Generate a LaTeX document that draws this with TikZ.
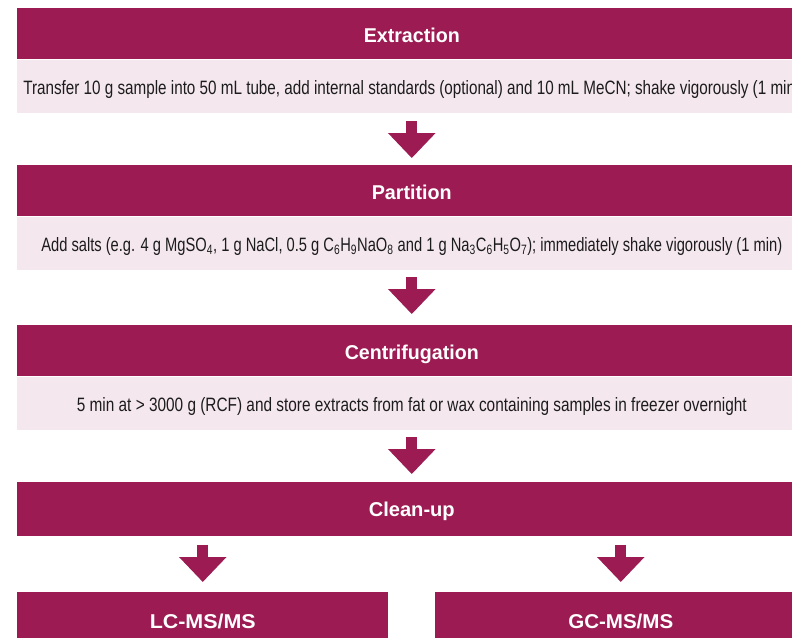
\documentclass[tikz,border=0pt]{standalone}
\usepackage{fontspec}
\setmainfont{Liberation Sans}
\usepackage{graphicx}
\usetikzlibrary{arrows.meta,calc}
\definecolor{berry}{RGB}{155,27,82}
\definecolor{blush}{RGB}{244,231,238}
\definecolor{ink}{RGB}{28,28,28}
\newlength\natw
\newcommand\fitx[2]{\settowidth\natw{#2}\edef\fitfac{\fpeval{(#1)/(\the\natw)}}\scalebox{\fitfac}[1]{#2}}
\tikzset{
  headbox/.style={fill=berry, text=white, inner sep=0pt, anchor=north west,
    minimum width=591.75pt, text height=25.9pt, text depth=12.35pt,
    font=\fontsize{15}{18}\selectfont\bfseries},
  halfbox/.style={headbox, minimum width=278.25pt},
  bandbox/.style={fill=blush, text=ink, inner sep=0pt, anchor=north west,
    minimum width=591.75pt, text height=25.9pt, text depth=13.85pt,
    font=\fontsize{14.5}{17}\selectfont},
  blockarrow/.style={draw=berry, line width=8.25pt, line cap=butt,
    -{Triangle[length=18.75pt,width=34.5pt]}},
}
\begin{document}
\begin{tikzpicture}[x=0.75pt,y=-0.75pt]
\useasboundingbox (0,0) rectangle (792,638);
\clip (0,0) rectangle (792,638);
% Extraction
\node[headbox] (h1) at (17,8) {\fitx{72pt}{Extraction}};
\node[bandbox] (b1) at (h1.south west) {\fitx{582.75pt}{Transfer 10 g sample into 50 mL tube, add internal standards (optional) and 10 mL MeCN; shake vigorously (1 min)}};
% Partition
\node[headbox] (h2) at (17,165) {\fitx{60pt}{Partition}};
\node[bandbox] (b2) at (h2.south west) {\fitx{555.75pt}{Add salts (e.g. 4 g MgSO\textsubscript{4}, 1 g NaCl, 0.5 g C\textsubscript{6}H\textsubscript{9}NaO\textsubscript{8} and 1 g Na\textsubscript{3}C\textsubscript{6}H\textsubscript{5}O\textsubscript{7}); immediately shake vigorously (1 min)}};
% Centrifugation
\node[headbox] (h3) at (17,325) {\fitx{100.5pt}{Centrifugation}};
\node[bandbox] (b3) at (h3.south west) {\fitx{502.5pt}{5 min at > 3000 g (RCF) and store extracts from fat or wax containing samples in freezer overnight}};
% Clean-up
\node[headbox, text depth=14.6pt] (h4) at (17,482) {\fitx{64.5pt}{Clean-up}};
% Analysis
\node[halfbox, text height=27pt, text depth=13pt] (lc) at (17,592) {\fitx{79.5pt}{LC-MS/MS}};
\node[halfbox, text height=27pt, text depth=13pt] (gc) at (435,592) {\fitx{78.75pt}{GC-MS/MS}};
% Arrows
\draw[blockarrow] ($(b1.south)+(0,8)$) -- ($(b1.south)+(0,45)$);
\draw[blockarrow] ($(b2.south)+(0,7)$) -- ($(b2.south)+(0,44)$);
\draw[blockarrow] ($(b3.south)+(0,7)$) -- ($(b3.south)+(0,44)$);
\draw[blockarrow] ($(h4.south -| lc.north)+(0,8)$) -- ($(lc.north)+(0,-10)$);
\draw[blockarrow] ($(h4.south -| gc.north)+(0,8)$) -- ($(gc.north)+(0,-10)$);
\end{tikzpicture}
\end{document}
